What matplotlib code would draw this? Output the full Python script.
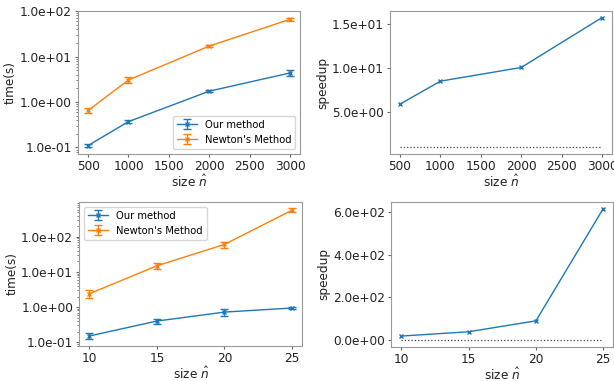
import matplotlib
matplotlib.use('Agg')
import matplotlib.pyplot as plt
from matplotlib.ticker import FormatStrFormatter, LogLocator, NullFormatter

# top row: large sizes
n_top = [500, 1000, 2000, 3000]
ours_top = [0.11, 0.37, 1.73, 4.35]
ours_top_err = [0.01, 0.03, 0.1, 0.6]
newton_top = [0.65, 3.05, 17.0, 66.0]
newton_top_err = [0.07, 0.45, 0.9, 6.0]
speed_top = [5.9, 8.5, 10.05, 15.7]

# bottom row: small sizes
n_bot = [10, 15, 20, 25]
ours_bot = [0.15, 0.40, 0.72, 0.94]
ours_bot_err = [0.03, 0.07, 0.15, 0.08]
newton_bot = [2.4, 15.0, 61.0, 575.0]
newton_bot_err = [0.6, 2.5, 12.0, 70.0]
speed_bot = [20, 40, 91, 615]

blue = '#1f77b4'
orange = '#ff7f0e'
fs = 8.7

plt.rcParams.update({'font.size': fs, 'axes.edgecolor': '#999999',
                     'xtick.color': '#666666', 'ytick.color': '#666666',
                     'xtick.labelcolor': '#222222', 'ytick.labelcolor': '#222222',
                     'axes.labelcolor': '#222222',
                     'xtick.major.size': 2.2, 'ytick.major.size': 2.2,
                     'ytick.minor.size': 1.2,
                     'xtick.major.pad': 2.2, 'ytick.major.pad': 2.2})

fig = plt.figure(figsize=(6.14, 3.81), dpi=100)
ax_tl = fig.add_axes([0.127, 0.596, 0.362, 0.375])
ax_tr = fig.add_axes([0.635, 0.596, 0.362, 0.375])
ax_bl = fig.add_axes([0.129, 0.092, 0.363, 0.378])
ax_br = fig.add_axes([0.637, 0.090, 0.362, 0.380])


def time_plot(ax, n, ours, ours_err, newton, newton_err, loc):
	ax.errorbar(n, ours, yerr=ours_err, color=blue, marker='x', ms=3,
				lw=1, capsize=3, elinewidth=1, label='Our method')
	ax.errorbar(n, newton, yerr=newton_err, color=orange, marker='x', ms=3,
				lw=1, capsize=3, elinewidth=1, label="Newton's Method")
	ax.set_yscale('log')
	ax.yaxis.set_major_locator(LogLocator(base=10))
	ax.yaxis.set_major_formatter(FormatStrFormatter('%.1e'))
	ax.yaxis.set_minor_formatter(NullFormatter())
	ax.set_ylabel('time(s)', labelpad=2)
	ax.set_xlabel(r'size $\hat{n}$', labelpad=1)
	ax.legend(loc=loc, fontsize=7.2)


def speed_plot(ax, n, speed):
	ax.plot(n, speed, color=blue, marker='x', ms=3, lw=1)
	ax.plot(n, [1] * len(n), ':', color='#444444', lw=0.9)
	ax.yaxis.set_major_formatter(FormatStrFormatter('%.1e'))
	ax.set_ylabel('speedup', labelpad=2)
	ax.set_xlabel(r'size $\hat{n}$', labelpad=1)


time_plot(ax_tl, n_top, ours_top, ours_top_err, newton_top, newton_top_err, 'lower right')
speed_plot(ax_tr, n_top, speed_top)
ax_tr.set_yticks([5, 10, 15])
time_plot(ax_bl, n_bot, ours_bot, ours_bot_err, newton_bot, newton_bot_err, 'upper left')
ax_bl.set_xticks(n_bot)
speed_plot(ax_br, n_bot, speed_bot)
ax_br.set_xticks(n_bot)
ax_br.set_yticks([0, 200, 400, 600])

plt.savefig('out.png', dpi=100)
